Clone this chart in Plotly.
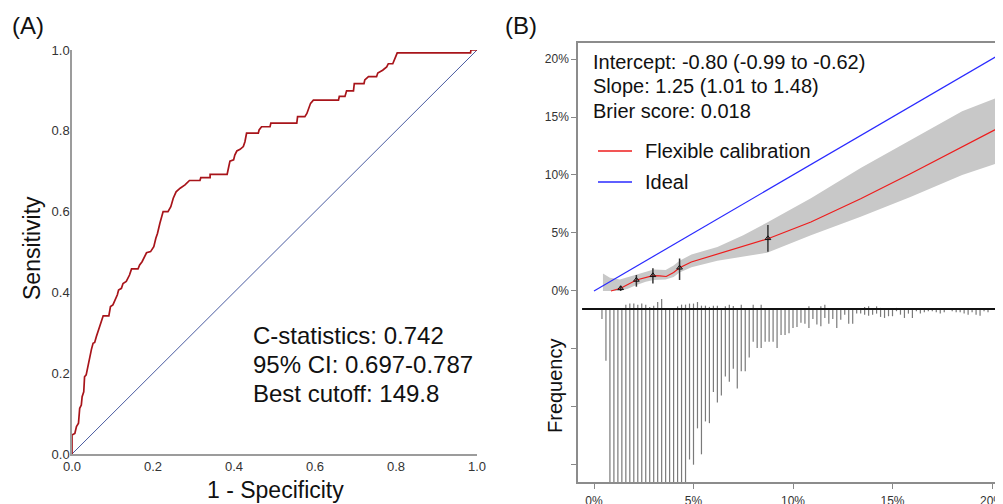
import plotly.graph_objects as go

# the page body has an 8px margin: figure is drawn at (8, 8) of the 1003x504 window
OFF = 8
W, H = 1003 - OFF, 504 - OFF
FONT = "Liberation Sans, Arial, sans-serif"

# ---------------- Panel A: ROC data ----------------
roc_fpr = [0, 0, 0.007, 0.011, 0.016, 0.019, 0.023, 0.025, 0.029, 0.031,
           0.035, 0.040, 0.044, 0.048, 0.052, 0.056, 0.060, 0.064, 0.068, 0.072,
           0.077, 0.091, 0.095, 0.101, 0.107, 0.112, 0.115, 0.122, 0.126, 0.134,
           0.142, 0.147, 0.163, 0.167, 0.173, 0.178, 0.184, 0.194, 0.202, 0.207,
           0.211, 0.217, 0.225, 0.237, 0.244, 0.250, 0.257, 0.267, 0.279, 0.290,
           0.316, 0.318, 0.341, 0.341, 0.383, 0.387, 0.390, 0.399, 0.402, 0.407,
           0.415, 0.423, 0.427, 0.431, 0.460, 0.462, 0.468, 0.489, 0.491, 0.555,
           0.557, 0.575, 0.580, 0.589, 0.596, 0.658, 0.660, 0.674, 0.678, 0.695,
           0.697, 0.721, 0.723, 0.732, 0.752, 0.755, 0.767, 0.777, 0.781, 0.792,
           0.795, 0.799, 0.803, 0.984, 0.985, 1.0]
roc_tpr = [0, 0.047, 0.051, 0.068, 0.076, 0.113, 0.121, 0.142, 0.154, 0.191,
           0.196, 0.224, 0.245, 0.259, 0.274, 0.276, 0.290, 0.303, 0.315, 0.323,
           0.342, 0.342, 0.365, 0.369, 0.383, 0.394, 0.406, 0.410, 0.422, 0.427,
           0.443, 0.458, 0.458, 0.468, 0.476, 0.488, 0.498, 0.501, 0.513, 0.534,
           0.546, 0.571, 0.600, 0.600, 0.612, 0.633, 0.649, 0.658, 0.666, 0.677,
           0.677, 0.684, 0.684, 0.692, 0.692, 0.711, 0.725, 0.728, 0.740, 0.750,
           0.754, 0.761, 0.773, 0.794, 0.794, 0.802, 0.810, 0.810, 0.819, 0.819,
           0.835, 0.835, 0.843, 0.868, 0.876, 0.876, 0.885, 0.885, 0.899, 0.899,
           0.917, 0.917, 0.926, 0.934, 0.934, 0.943, 0.950, 0.958, 0.966, 0.966,
           0.975, 0.983, 0.993, 0.993, 1.0, 1.0]
diag_xy = [0, 1]
roc_ticks = [0, 0.2, 0.4, 0.6, 0.8, 1.0]
roc_ticktext = ["0.0", "0.2", "0.4", "0.6", "0.8", "1.0"]
roc_stats = ["C-statistics: 0.742", "95% CI: 0.697-0.787", "Best cutoff: 149.8"]

# ---------------- Panel B: calibration data (percent) ----------------
ideal_x = [0, 20.6]
flex_x = [0.85, 1.34, 2.13, 2.6, 2.96, 3.3, 3.63, 4.0, 4.3, 4.89, 6.23, 7.5, 8.74,
          10.9, 13.4, 15.9, 18.5, 20.6]
flex_y = [0.0, 0.23, 0.95, 1.2, 1.33, 1.3, 1.25, 1.6, 2.0, 2.5, 3.2, 3.85, 4.5,
          5.95, 7.95, 10.1, 12.4, 14.3]
band_x = [0.45, 0.8, 1.3, 1.7, 2.1, 2.6, 3.0, 3.6, 4.0, 4.3, 4.9, 6.2, 7.5, 8.7,
          10.9, 13.4, 15.9, 18.5, 20.6]
band_lo = [0.0, 0.0, 0.0, 0.2, 0.5, 0.8, 0.95, 1.0, 1.2, 1.6, 2.05, 2.6, 2.95, 3.3,
           4.8, 6.4, 8.1, 10.0, 11.2]
band_hi = [1.5, 1.15, 1.0, 1.2, 1.4, 1.7, 1.85, 1.8, 2.2, 2.6, 3.15, 3.8, 4.8, 5.9,
           8.0, 10.6, 13.0, 15.5, 16.9]
grp_x = [1.34, 2.13, 2.96, 4.30, 8.74]
grp_y = [0.23, 0.95, 1.35, 2.0, 4.54]
grp_lo = [0.0, 0.37, 0.65, 0.95, 3.39]
grp_hi = [0.45, 1.38, 1.95, 2.8, 5.69]

hist_x = [0.4, 0.6, 0.8, 1.0, 1.2, 1.4, 1.6, 1.8, 2.0, 2.2,
          2.4, 2.6, 2.8, 3.0, 3.2, 3.4, 3.6, 3.8, 4.0, 4.2,
          4.4, 4.6, 4.8, 5.0, 5.2, 5.4, 5.6, 5.8, 6.0, 6.2,
          6.4, 6.6, 6.8, 7.0, 7.2, 7.4, 7.6, 7.8, 8.0, 8.2,
          8.4, 8.6, 8.8, 9.0, 9.2, 9.4, 9.6, 9.8, 10.0, 10.2,
          10.4, 10.6, 10.8, 11.0, 11.2, 11.4, 11.6, 11.8, 12.0, 12.2,
          12.4, 12.6, 12.8, 13.0, 13.2, 13.4, 13.6, 13.8, 14.0, 14.2,
          14.4, 14.6, 14.8, 15.0, 15.2, 15.4, 15.6, 15.8, 16.0, 16.2,
          16.4, 16.6, 16.8, 17.0, 17.2, 17.4, 17.6, 17.8, 18.0, 18.2,
          18.4, 18.6, 18.8, 19.0, 19.2, 19.4, 19.6, 19.8]
# relative frequency of non-events (drawn downward) and events (drawn upward)
hist_nonevent = [5.8, 30, 100, 100, 100, 100, 100, 100, 100, 100,
                 100, 100, 100, 100, 100, 100, 100, 100, 100, 100,
                 100, 100, 87, 90, 69, 84, 65, 66, 48, 54,
                 50, 39, 42, 34.5, 46, 36, 36, 28, 19, 22.5,
                 22.5, 19, 19, 19, 22.5, 15, 15, 14, 11, 10.4,
                 8, 8.5, 11, 5.8, 9, 10, 5.2, 8.5, 5.8, 11,
                 6.2, 3.3, 8.5, 8.5, 2.7, 2.7, 3.3, 3.9, 3.3, 2.7,
                 4.6, 5.2, 4.2, 4.2, 1.3, 3.3, 5.2, 2.7, 5.2, 1.3,
                 2.7, 1.9, 1.3, 1.3, 1.9, 2.7, 1.9, 0.4, 1.3, 1.9,
                 1.9, 2.7, 3.3, 1.9, 3.3, 3.9, 1.3, 1.9]
hist_event = [0, 0, 0.6, 0, 0, 0, 2.5, 3.1, 3.1, 2.5,
              3.1, 2.5, 1.2, 1.9, 4.0, 5.8, 0, 0.6, 0.6, 1.5,
              2.5, 2.5, 3.1, 3.1, 4.0, 1.9, 1.9, 1.2, 1.9, 1.9,
              0.6, 1.5, 2.5, 1.7, 0, 2.5, 0, 0, 2.5, 0.6,
              2.5, 0.6, 0.6, 0, 0.6, 0.6, 0.6, 0.6, 0.6, 0.6,
              0.6, 0.6, 1.5, 0, 0.6, 1.5, 2.5, 0, 0.6, 0.6,
              0.6, 0, 0.6, 0, 0, 0.6, 1.2, 1.5, 0.6, 1.5,
              0.6, 0, 0, 0, 0.6, 0, 0, 0, 0, 0.6,
              0, 0, 0, 0, 0, 0, 0, 0.6, 0, 0,
              0, 0, 0, 0, 0, 0, 0, 0]
hist_base = -1.55      # y (in %) of the histogram baseline
hist_scale = 0.1492    # % per unit of relative frequency
cal_yticks = [-15, -10, -5, 0, 5, 10, 15, 20]
cal_yticktext = ["", "", "", "0%", "5%", "10%", "15%", "20%"]
cal_xticks = [0, 5, 10, 15, 20]
cal_xticktext = ["0%", "5%", "10%", "15%", "20%"]
cal_stats = ["Intercept: -0.80 (-0.99 to -0.62)", "Slope: 1.25 (1.01 to 1.48)",
             "Brier score: 0.018"]
legend_names = ["Flexible calibration", "Ideal"]
flex_color = "#EE1C1C"
ideal_color = "#2A2AFF"


def px(x):
    """window pixel x -> paper fraction"""
    return (x - OFF) / W


def py(y):
    """window pixel y -> paper fraction"""
    return 1 - (y - OFF) / H


fig = go.Figure()

# Panel A
fig.add_trace(go.Scatter(x=diag_xy, y=diag_xy, mode="lines",
                         line=dict(color="#4A5BA0", width=1), showlegend=False,
                         xaxis="x", yaxis="y"))
fig.add_trace(go.Scatter(x=roc_fpr, y=roc_tpr, mode="lines",
                         line=dict(color="#A8141A", width=1.7), showlegend=False,
                         xaxis="x", yaxis="y"))

# Panel B: confidence band
fig.add_trace(go.Scatter(x=band_x + band_x[::-1], y=band_hi + band_lo[::-1],
                         fill="toself", fillcolor="#C8C8C8", mode="lines",
                         line=dict(width=0, color="#C8C8C8"), showlegend=False,
                         hoverinfo="skip", xaxis="x2", yaxis="y2"))

# histogram spikes
hx, hy = [], []
for x, d, u in zip(hist_x, hist_nonevent, hist_event):
    if d > 0:
        hx += [x, x, None]
        hy += [hist_base, hist_base - d * hist_scale, None]
    if u > 0:
        hx += [x, x, None]
        hy += [hist_base, hist_base + u * hist_scale, None]
fig.add_trace(go.Scatter(x=hx, y=hy, mode="lines",
                         line=dict(color="#7a7a7a", width=1.2), showlegend=False,
                         xaxis="x2", yaxis="y2"))
fig.add_trace(go.Scatter(x=[-0.6, 20.6], y=[hist_base, hist_base], mode="lines",
                         line=dict(color="#111111", width=2), showlegend=False,
                         xaxis="x2", yaxis="y2"))

# ideal and flexible calibration
fig.add_trace(go.Scatter(x=flex_x, y=flex_y, mode="lines", name=legend_names[0],
                         showlegend=False,
                         line=dict(color=flex_color, width=1.2), xaxis="x2", yaxis="y2"))
fig.add_trace(go.Scatter(x=ideal_x, y=ideal_x, mode="lines", name=legend_names[1],
                         showlegend=False,
                         line=dict(color=ideal_color, width=1.2), xaxis="x2", yaxis="y2"))

# grouped observations with CI
fig.add_trace(go.Scatter(
    x=grp_x, y=grp_y, mode="markers", showlegend=False,
    marker=dict(symbol="triangle-up-open", size=5, color="#111111", line=dict(width=1)),
    error_y=dict(type="data", symmetric=False,
                 array=[h - y for h, y in zip(grp_hi, grp_y)],
                 arrayminus=[y - l for l, y in zip(grp_lo, grp_y)],
                 color="#333333", thickness=1.5, width=0),
    xaxis="x2", yaxis="y2"))

annotations = []
annotations.append(dict(text="(A)", x=px(10), y=py(25), xanchor="left", yanchor="middle",
                        font=dict(size=24, color="#111")))
annotations.append(dict(text="(B)", x=px(503), y=py(25), xanchor="left", yanchor="middle",
                        font=dict(size=24, color="#111")))
annotations.append(dict(text="Sensitivity", x=px(32), y=py(248), textangle=-90,
                        xanchor="center", yanchor="middle", font=dict(size=23, color="#111")))
annotations.append(dict(text="1 - Specificity", x=px(275), y=py(490),
                        xanchor="center", yanchor="middle", font=dict(size=23, color="#111")))
for i, t in enumerate(roc_stats):
    annotations.append(dict(text=t, x=px(251), y=py(335 + 29 * i), xanchor="left",
                            yanchor="middle", font=dict(size=24, color="#111")))
for i, t in enumerate(cal_stats):
    annotations.append(dict(text=t, x=px(591), y=py(62 + 24.5 * i), xanchor="left",
                            yanchor="middle", font=dict(size=20, color="#111")))
annotations.append(dict(text="Frequency", x=px(555), y=py(386), textangle=-90,
                        xanchor="center", yanchor="middle", font=dict(size=20, color="#111")))

# legend (drawn by hand to match the R layout)
shapes = []
for i, (name, col) in enumerate(zip(legend_names, [flex_color, ideal_color])):
    yy = 151 + 31 * i
    shapes.append(dict(type="line", xref="paper", yref="paper",
                       x0=px(598), x1=px(632), y0=py(yy), y1=py(yy),
                       line=dict(color=col, width=1.3)))
    annotations.append(dict(text=name, x=px(643), y=py(yy), xanchor="left",
                            yanchor="middle", font=dict(size=20, color="#111")))
for a in annotations:
    a.update(xref="paper", yref="paper", showarrow=False)

axis_common = dict(showgrid=False, zeroline=False, showline=True, automargin=False)

fig.update_layout(
    width=W, height=H,
    margin=dict(l=0, r=0, t=0, b=0),
    paper_bgcolor="white", plot_bgcolor="white",
    font=dict(family=FONT, color="#222"),
    annotations=annotations,
    shapes=shapes,
    showlegend=False,
    xaxis=dict(domain=[px(72), px(477)], range=[0, 1], anchor="y",
               tickvals=roc_ticks, ticktext=roc_ticktext, ticks="",
               linecolor="#9c9c9c", linewidth=1.5,
               tickfont=dict(size=13, color="#333"), **axis_common),
    yaxis=dict(domain=[py(454), py(50)], range=[0, 1], anchor="x",
               tickvals=roc_ticks, ticktext=roc_ticktext, ticks="",
               linecolor="#9c9c9c", linewidth=1.5, ticklabelstandoff=-2,
               tickfont=dict(size=13, color="#333"), **axis_common),
    xaxis2=dict(domain=[px(578), 1], range=[-0.804, 20.553], anchor="y2",
                tickvals=cal_xticks, ticktext=cal_xticktext, ticks="outside",
                ticklen=5, tickcolor="#888", mirror=True, ticklabelstandoff=2,
                ticklabeloverflow="allow",
                linecolor="#8c8c8c", linewidth=1.5,
                tickfont=dict(size=12, color="#333"), **axis_common),
    yaxis2=dict(domain=[py(482), py(43)], range=[-16.47, 21.38], anchor="x2",
                tickvals=cal_yticks, ticktext=cal_yticktext, ticks="outside",
                ticklen=5, tickcolor="#888",
                linecolor="#8c8c8c", linewidth=1.5,
                tickfont=dict(size=12, color="#333"), **axis_common),
)

fig.write_html("out.html")
